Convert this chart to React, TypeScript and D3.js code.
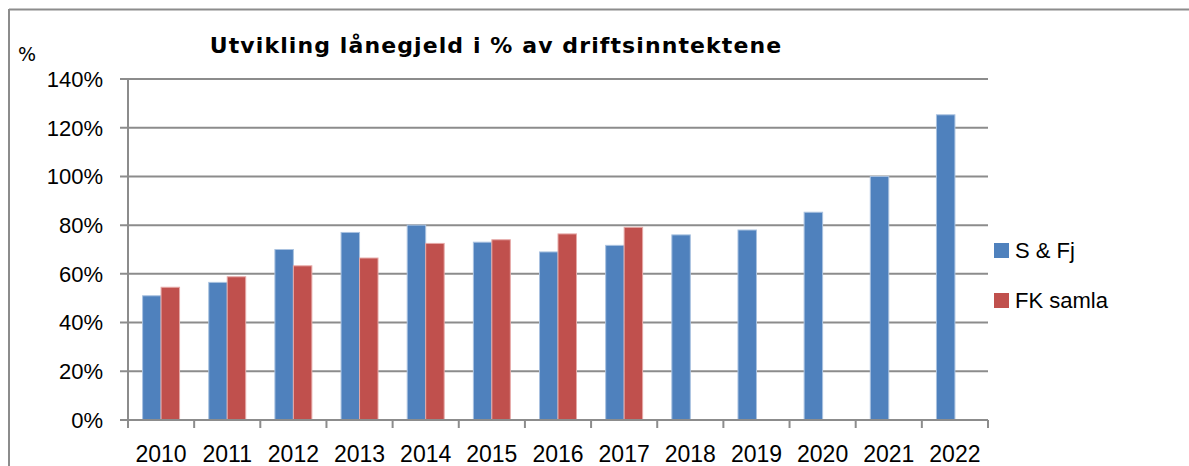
import * as d3 from "d3";

const YEARS = ["2010", "2011", "2012", "2013", "2014", "2015", "2016", "2017", "2018", "2019", "2020", "2021", "2022"];
const SERIES = ["S & Fj", "FK samla"];
const S_FJ = [51, 56.5, 70, 77, 80, 73, 69, 71.7, 76, 78, 85.3, 100, 125.3];
const FK_SAMLA: (number | null)[] = [54.5, 58.8, 63.3, 66.5, 72.5, 74, 76.4, 79.1, null, null, null, null, null];
const Y_TICKS = [0, 20, 40, 60, 80, 100, 120, 140];
const COLORS = ["#4f81bd", "#c0504d"];
const EDGES = ["#a9c2e0", "#e6a9a7"];

const W = 1189;
const H = 466;
const GRID = "#8c8c8c";
const LABEL_FONT = "'Liberation Sans', Arial, sans-serif";

export default function App() {
  const x = d3.scaleBand<string>().domain(YEARS).range([128, 988]).paddingInner(0).paddingOuter(0);
  const x1 = d3.scaleBand<string>().domain(SERIES).range([0, x.bandwidth()]).paddingInner(0).paddingOuter(0.79);
  const y = d3.scaleLinear().domain([0, 140]).range([420, 79]);

  const values = [S_FJ, FK_SAMLA];

  return (
    <svg width={W} height={H} style={{ position: "absolute", left: 0, top: 0, background: "#fff" }}>
      {/* outer frame */}
      <line x1={9} x2={W} y1={9.5} y2={9.5} stroke={GRID} strokeWidth={2} />
      <line x1={9} x2={9} y1={9} y2={H} stroke={GRID} strokeWidth={2} />

      <text x={496} y={53} textAnchor="middle" fontFamily="'DejaVu Sans', Verdana, sans-serif" fontWeight="bold" fontSize={22} letterSpacing={1.1} fill="#000">
        Utvikling lånegjeld i % av driftsinntektene
      </text>
      <text x={18} y={61} fontFamily="'DejaVu Sans', Verdana, sans-serif" fontSize={19} fill="#000">%</text>

      {/* gridlines + y ticks */}
      {Y_TICKS.map(t => (
        <g key={t}>
          <line x1={120} x2={988} y1={y(t)} y2={y(t)} stroke={GRID} strokeWidth={2} />
          <text x={103} y={y(t)} dy="0.36em" textAnchor="end" fontFamily={LABEL_FONT} fontSize={22} fill="#000">
            {t}%
          </text>
        </g>
      ))}

      {/* y axis */}
      <line x1={128} x2={128} y1={y(140)} y2={y(0)} stroke={GRID} strokeWidth={2} />

      {/* bars */}
      {YEARS.map((yr, i) => (
        <g key={yr} transform={`translate(${x(yr)},0)`}>
          {SERIES.map((s, j) => {
            const v = values[j][i];
            if (v == null) return null;
            return (
              <rect
                key={s}
                x={x1(s)}
                y={y(v)}
                width={x1.bandwidth()}
                height={y(0) - y(v)}
                fill={COLORS[j]}
                stroke={EDGES[j]}
                strokeWidth={1}
              />
            );
          })}
        </g>
      ))}

      {/* x axis */}
      <line x1={128} x2={988} y1={y(0)} y2={y(0)} stroke={GRID} strokeWidth={2} />
      {[...YEARS.map(yr => x(yr) as number), 988].map((px, i) => (
        <line key={i} x1={px} x2={px} y1={y(0)} y2={y(0) + 8} stroke={GRID} strokeWidth={2} />
      ))}
      {YEARS.map(yr => (
        <text key={yr} x={(x(yr) as number) + x.bandwidth() / 2} y={462} textAnchor="middle" fontFamily={LABEL_FONT} fontSize={23} fill="#000">
          {yr}
        </text>
      ))}

      {/* legend */}
      {SERIES.map((s, j) => (
        <g key={s} transform={`translate(994,${243 + j * 50})`}>
          <rect x={0} y={0} width={15} height={15} fill={COLORS[j]} />
          <text x={21} y={15} fontFamily={LABEL_FONT} fontSize={22} fill="#000">{s}</text>
        </g>
      ))}
    </svg>
  );
}
